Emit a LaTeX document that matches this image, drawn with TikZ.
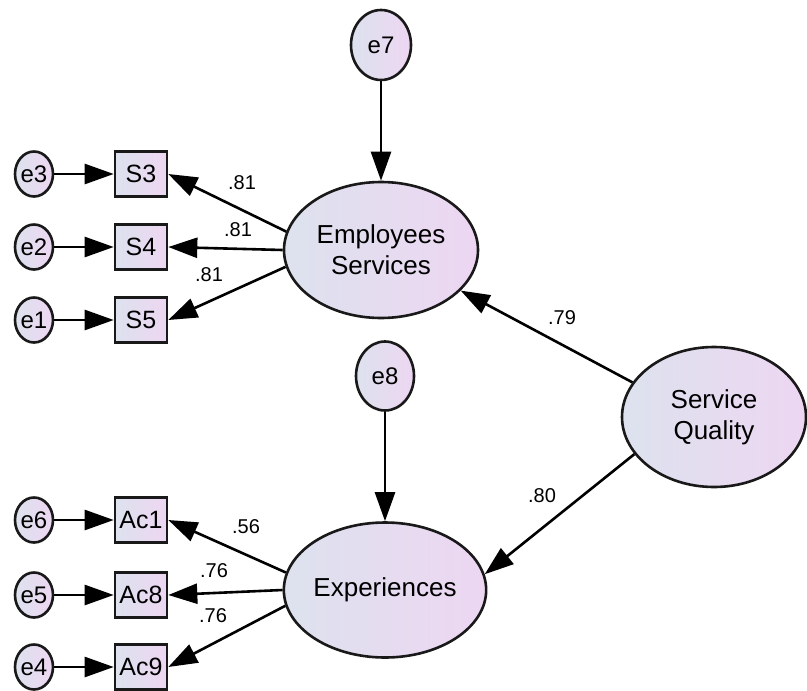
\documentclass[tikz,border=0pt]{standalone}
\usepackage{fontspec}
\setmainfont{Liberation Sans}
\usetikzlibrary{shapes, arrows.meta, positioning, calc}

\definecolor{semleft}{RGB}{221,226,238}
\definecolor{semright}{RGB}{237,214,242}

\tikzset{
	sem/.style={draw=black!90, line width=1.3pt, left color=semleft, right color=semright},
	latent/.style={sem, ellipse, inner sep=0pt, align=center, font=\fontsize{13}{15.5}\selectfont},
	errvar/.style={sem, ellipse, inner sep=0pt, font=\fontsize{12}{14}\selectfont},
	obs/.style={sem, rectangle, minimum width=26pt, minimum height=22.5pt, inner sep=0pt, font=\fontsize{12.5}{14}\selectfont},
	regpath/.style={line width=1.3pt, -{Triangle[length=14.5pt,width=10pt]}},
	coef/.style={inner sep=0pt, font=\fontsize{10}{12}\selectfont}
}

\begin{document}
\begin{tikzpicture}[x=0.5pt, y=-0.5pt]
		\useasboundingbox (0,0) rectangle (807,690);
		% latent factors
		\node[latent, minimum width=97pt, minimum height=68pt] (ES) at (381,250) {Employees\\Services};
		\node[latent, minimum width=96.5pt, minimum height=67.5pt] (Exp) at (385,590) {Experiences};
		\node[latent, minimum width=92pt, minimum height=70pt] (SQ) at (714,417) {Service\\Quality};
		% disturbances
		\node[errvar, minimum width=30pt, minimum height=35pt] (e7) at (381,45) {e7};
		\node[errvar, minimum width=29pt, minimum height=34.5pt] (e8) at (385,376) {e8};
		\draw[regpath] (e7) -- (ES);
		\draw[regpath] (e8) -- (Exp);
		\draw[regpath] (SQ.157) -- (ES.333);
		\draw[regpath] (SQ.205) -- (Exp.9);
		\node[coef] (l79) at (562,318) {.79};
		\node[coef] (l80) at (542,496) {.80};
		% indicators
		\foreach \e/\s/\f/\y/\a/\lx/\ly/\v in {
			e3/S3/ES/174/169/242/183/.81,
			e2/S4/ES/247/180/238/230/.81,
			e1/S5/ES/320/190/209/275/.81,
			e6/Ac1/Exp/520/170/246/527/.56,
			e5/Ac8/Exp/595/180/214/571/.76,
			e4/Ac9/Exp/667/189/213/616/.76}{
			\node[obs] (\s) at (141,\y) {\s};
			\node[errvar, minimum width=19pt, minimum height=22.5pt] (\e) at (34,\y) {\e};
			\draw[regpath] (\e) -- (\s);
			\draw[regpath] (\f.\a) -- (\s.east);
			\node[coef] (l\s) at (\lx,\ly) {\v};
		}
	\end{tikzpicture}
\end{document}
